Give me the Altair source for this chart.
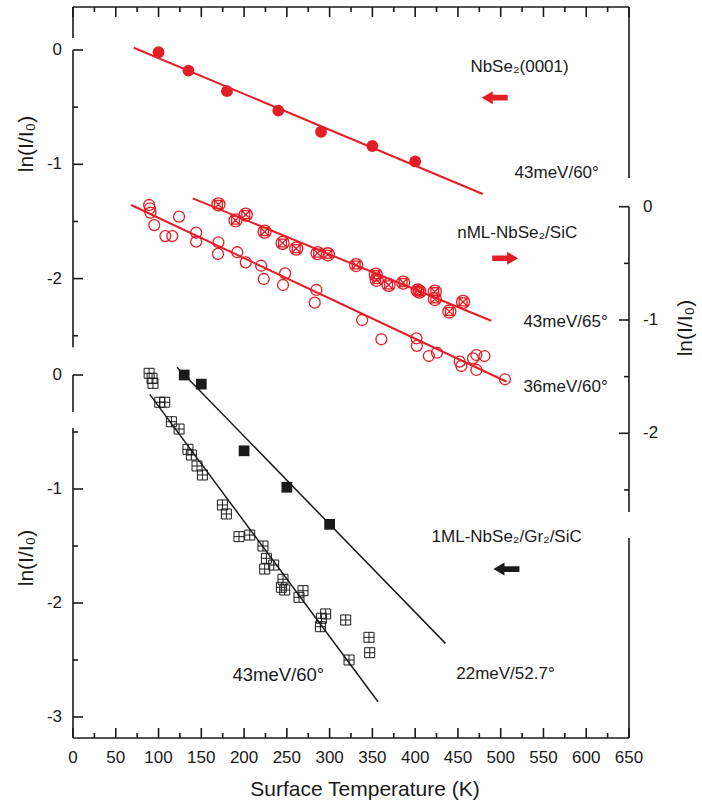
import altair as alt
import pandas as pd

# ---------------- data ----------------
# Top panel, left axis: NbSe2(0001), 43meV/60 deg (filled red circles)
top_T = [100, 135, 180, 240, 290, 350, 400]
top_v = [-0.02, -0.18, -0.36, -0.53, -0.715, -0.84, -0.975]
top_fit_T = [71, 479]
top_fit_v = [0.02, -1.26]

# nML-NbSe2/SiC, right axis: 43meV/65 deg (crossed circles)
x65_T = [170, 190, 202, 224, 245, 261, 286, 298, 331, 354, 355, 369, 386, 403, 405,
         423, 423, 440, 456]
x65_v = [0.02, -0.12, -0.07, -0.22, -0.32, -0.37, -0.41, -0.42, -0.515, -0.60, -0.645,
         -0.69, -0.67, -0.74, -0.75, -0.75, -0.815, -0.925, -0.84]
x65_fit_T = [140, 489]
x65_fit_v = [0.074, -1.007]

# nML-NbSe2/SiC, right axis: 36meV/60 deg (open circles)
o60_T = [89, 90, 90.5, 95, 124, 108, 116, 144, 144, 170, 169.5, 192, 202, 220, 223,
         248, 245.5, 284.5, 282.6, 338, 360.5, 401.5, 402, 416, 425.5, 452, 454,
         467.6, 471.6, 471.6, 481, 505]
o60_v = [0.015, -0.014, -0.053, -0.162, -0.088, -0.259, -0.259, -0.229, -0.309, -0.314,
         -0.417, -0.402, -0.491, -0.521, -0.638, -0.588, -0.691, -0.735, -0.847, -1.0,
         -1.17, -1.162, -1.229, -1.318, -1.289, -1.368, -1.406, -1.338, -1.309, -1.441,
         -1.318, -1.523]
o60_fit_T = [68, 507]
o60_fit_v = [0.015, -1.545]

# Bottom panel: 1ML-NbSe2/Gr2/SiC, 22meV/52.7 deg (filled black squares)
fs_T = [130, 150, 200, 250, 300]
fs_v = [0.0, -0.08, -0.665, -0.985, -1.31]
fs_fit_T = [121.6, 435.4]
fs_fit_v = [0.068, -2.354]

# Bottom panel: 43meV/60 deg (squares with a cross)
cs_T = [89, 92.4, 93.5, 101.4, 107.2, 115, 124, 134.4, 138.4, 145, 151.3, 174.7, 179.3,
        194.1, 206.6, 222.1, 226.1, 224.1, 234.6, 245.5, 243.6, 247.5, 264.2, 268.9,
        290.4, 295.4, 289.2, 318.8, 346, 346.9, 322.7]
cs_v = [0.015, -0.029, -0.073, -0.239, -0.239, -0.41, -0.474, -0.652, -0.702, -0.798,
        -0.877, -1.14, -1.219, -1.418, -1.404, -1.5, -1.608, -1.702, -1.667, -1.792,
        -1.862, -1.886, -1.95, -1.892, -2.134, -2.096, -2.208, -2.149, -2.301, -2.436, -2.5]
cs_fit_T = [89.7, 356.6]
cs_fit_v = [-0.17, -2.866]

# Axis ticks / labels
x_major = list(range(0, 651, 50))
x_minor = list(range(25, 651, 50))
top_major = [0, -1, -2]
top_minor = [-0.5, -1.5, -2.5]
nml_major = [0, -1, -2]
nml_minor = [-0.5, -1.5, -2.5]
bot_major = [0, -1, -2, -3]
bot_minor = [-0.5, -1.5, -2.5]

# Annotations (text, temperature, value in that panel's units, font size)
top_lab = ["NbSe\u2082(0001)", "43meV/60\u00b0"]
top_lab_T = [522, 565.5]
top_lab_v = [-0.149, -1.076]
top_lab_fs = [17, 17]
nml_lab = ["nML-NbSe\u2082/SiC", "43meV/65\u00b0", "36meV/60\u00b0"]
nml_lab_T = [519.3, 575.8, 575.8]
nml_lab_v = [-0.235, -1.015, -1.589]
nml_lab_fs = [17, 17, 17]
bot_lab = ["1ML-NbSe\u2082/Gr\u2082/SiC", "22meV/52.7\u00b0", "43meV/60\u00b0"]
bot_lab_T = [507, 505.6, 240]
bot_lab_v = [-1.418, -2.623, -2.632]
bot_lab_fs = [17, 17, 18.5]

# Arrows (temperature, value)
top_arrow = (493, -0.417)
nml_arrow = (505.3, -0.455)
bot_arrow = (506.7, -1.702)

# ---------------- layout / style ----------------
W, H = 556, 731
RED = "#e41e26"
BLACK = "#1a1a1a"
FONT = "Liberation Sans"
AXW = 1.6

XS = alt.Scale(domain=[0, 650], nice=False, zero=False)


def yscale(zero_px, ppu):
    return alt.Scale(domain=[-(H - zero_px) / ppu, zero_px / ppu], nice=False, zero=False)


TOP_S = yscale(43, 114.3)
NML_S = yscale(199.7, 113.3)
BOT_S = yscale(368, 114.0)

ARROW_L = "M-1,0L-0.15,-0.5L-0.15,-0.22L1,-0.22L1,0.22L-0.15,0.22L-0.15,0.5Z"
ARROW_R = "M1,0L0.15,-0.5L0.15,-0.22L-1,-0.22L-1,0.22L0.15,0.22L0.15,0.5Z"
CROSS_CIRCLE = ("M-1,0A1,1,0,1,1,1,0A1,1,0,1,1,-1,0Z "
                "M-0.6,-0.6L0.6,-0.6L0.6,0.6L-0.6,0.6Z "
                "M-0.6,-0.6L0.6,0.6M-0.6,0.6L0.6,-0.6")
PLUS_SQUARE = "M-1,-1L1,-1L1,1L-1,1Z M0,-1L0,1M-1,0L1,0"


def df(T, v):
    return pd.DataFrame({"T": T, "v": v})


def xe(f="T"):
    return alt.X(f"{f}:Q", scale=XS, axis=None)


def ye(S, f="v"):
    return alt.Y(f"{f}:Q", scale=S, axis=None)


def fit_line(T, v, S, color, sw):
    return alt.Chart(df(T, v)).mark_line(color=color, strokeWidth=sw).encode(
        x=xe(), y=ye(S))


def points(T, v, S, **mk):
    return alt.Chart(df(T, v)).mark_point(opacity=1, **mk).encode(x=xe(), y=ye(S))


def vsegments(starts, ends, S, xpos):
    d = pd.DataFrame({"v": starts, "v2": ends})
    return alt.Chart(d).mark_rule(color=BLACK, strokeWidth=AXW).encode(
        x=alt.value(xpos), y=ye(S), y2="v2:Q")


def yticks(vals, S, x1, x2):
    return alt.Chart(pd.DataFrame({"v": vals})).mark_rule(
        color=BLACK, strokeWidth=AXW).encode(y=ye(S), x=alt.value(x1), x2=alt.value(x2))


def ylabels(vals, S, xpos, align):
    d = pd.DataFrame({"v": vals, "lab": [str(int(t)) for t in vals]})
    return alt.Chart(d).mark_text(font=FONT, fontSize=17, color=BLACK, align=align,
                                  baseline="middle").encode(
        y=ye(S), x=alt.value(xpos), text="lab:N")


def ytitle(v, S, xpos):
    d = pd.DataFrame({"v": [v], "lab": ["ln(I/I\u2080)"]})
    return alt.Chart(d).mark_text(font=FONT, fontSize=21, color=BLACK, angle=270,
                                  align="center", baseline="middle").encode(
        y=ye(S), x=alt.value(xpos), text="lab:N")


def notes(labs, T, v, fs, S):
    d = pd.DataFrame({"T": T, "v": v, "lab": labs, "fs": fs})
    return alt.Chart(d).mark_text(font=FONT, color=BLACK, align="center",
                                  baseline="middle").encode(
        x=xe(), y=ye(S), text="lab:N", size=alt.Size("fs:Q", scale=None))


def arrow(pos, S, shape, color):
    return alt.Chart(df([pos[0]], [pos[1]])).mark_point(
        shape=shape, filled=True, fill=color, color=color, strokeWidth=0, size=676,
        opacity=1).encode(x=xe(), y=ye(S))


# ---------------- frame (top and bottom edges, x axis) ----------------
edge = pd.DataFrame({"T": [0], "T2": [650]})
frame = alt.layer(
    alt.Chart(edge).mark_rule(color=BLACK, strokeWidth=AXW).encode(
        x=xe(), x2="T2:Q", y=alt.value(0)),
    alt.Chart(edge).mark_rule(color=BLACK, strokeWidth=AXW).encode(
        x=xe(), x2="T2:Q", y=alt.value(H)),
    alt.Chart(pd.DataFrame({"T": x_major})).mark_rule(color=BLACK, strokeWidth=AXW).encode(
        x=xe(), y=alt.value(0), y2=alt.value(10)),
    alt.Chart(pd.DataFrame({"T": x_minor})).mark_rule(color=BLACK, strokeWidth=AXW).encode(
        x=xe(), y=alt.value(0), y2=alt.value(5)),
    alt.Chart(pd.DataFrame({"T": x_major})).mark_rule(color=BLACK, strokeWidth=AXW).encode(
        x=xe(), y=alt.value(H - 10), y2=alt.value(H)),
    alt.Chart(pd.DataFrame({"T": x_minor})).mark_rule(color=BLACK, strokeWidth=AXW).encode(
        x=xe(), y=alt.value(H - 5), y2=alt.value(H)),
    alt.Chart(pd.DataFrame({"T": x_major, "lab": [str(t) for t in x_major]})).mark_text(
        font=FONT, fontSize=17, color=BLACK, baseline="middle").encode(
        x=xe(), y=alt.value(H + 20), text="lab:N"),
    alt.Chart(pd.DataFrame({"lab": ["Surface Temperature (K)"]})).mark_text(
        font=FONT, fontSize=21, color=BLACK, baseline="middle").encode(
        x=alt.value(292), y=alt.value(H + 52), text="lab:N"),
)

# ---------------- top panel (left axis) ----------------
top_panel = alt.layer(
    vsegments([0.376, 0], [0.105, -2.6], TOP_S, 0),
    vsegments([0.376], [-1.12], TOP_S, W),
    yticks(top_major, TOP_S, 0, 10),
    yticks(top_minor, TOP_S, 0, 5),
    ylabels(top_major, TOP_S, -11, "right"),
    ytitle(-0.822, TOP_S, -46),
    fit_line(top_fit_T, top_fit_v, TOP_S, RED, 2),
    points(top_T, top_v, TOP_S, shape="circle", filled=True, fill=RED, color=RED,
           size=140),
    notes(top_lab, top_lab_T, top_lab_v, top_lab_fs, TOP_S),
    arrow(top_arrow, TOP_S, ARROW_L, RED),
)

# ---------------- nML panel (right axis) ----------------
nml_panel = alt.layer(
    vsegments([0], [-2.695], NML_S, W),
    yticks(nml_major, NML_S, W - 10, W),
    yticks(nml_minor, NML_S, W - 5, W),
    ylabels(nml_major, NML_S, W + 14, "left"),
    ytitle(-1.071, NML_S, W + 57),
    fit_line(x65_fit_T, x65_fit_v, NML_S, RED, 2),
    fit_line(o60_fit_T, o60_fit_v, NML_S, RED, 2),
    points(o60_T, o60_v, NML_S, shape="circle", filled=False, color=RED, size=120,
           strokeWidth=1.3),
    points(x65_T, x65_v, NML_S, shape=CROSS_CIRCLE, filled=False, color=RED, size=170,
           strokeWidth=1.3),
    notes(nml_lab, nml_lab_T, nml_lab_v, nml_lab_fs, NML_S),
    arrow(nml_arrow, NML_S, ARROW_R, RED),
)

# ---------------- bottom panel (left axis) ----------------
bot_panel = alt.layer(
    vsegments([0, -0.465], [-0.325, -3.184], BOT_S, 0),
    vsegments([-1.43], [-3.184], BOT_S, W),
    yticks(bot_major, BOT_S, 0, 10),
    yticks(bot_minor, BOT_S, 0, 5),
    ylabels(bot_major, BOT_S, -11, "right"),
    ytitle(-1.605, BOT_S, -46),
    fit_line(fs_fit_T, fs_fit_v, BOT_S, BLACK, 1.5),
    fit_line(cs_fit_T, cs_fit_v, BOT_S, BLACK, 1.5),
    points(cs_T, cs_v, BOT_S, shape=PLUS_SQUARE, filled=False, color=BLACK, size=100,
           strokeWidth=1),
    points(fs_T, fs_v, BOT_S, shape="square", filled=True, fill=BLACK, color=BLACK,
           size=115),
    notes(bot_lab, bot_lab_T, bot_lab_v, bot_lab_fs, BOT_S),
    arrow(bot_arrow, BOT_S, ARROW_L, BLACK),
)

chart = alt.layer(frame, top_panel, nml_panel, bot_panel).resolve_scale(
    y="independent"
).properties(
    width=W, height=H,
    padding={"left": 73, "top": 7, "right": 73, "bottom": 67},
    autosize=alt.AutoSizeParams(type="none"),
    background="white",
).configure_view(stroke=None)

chart.save("out.html", embed_options={"renderer": "svg", "actions": False})
